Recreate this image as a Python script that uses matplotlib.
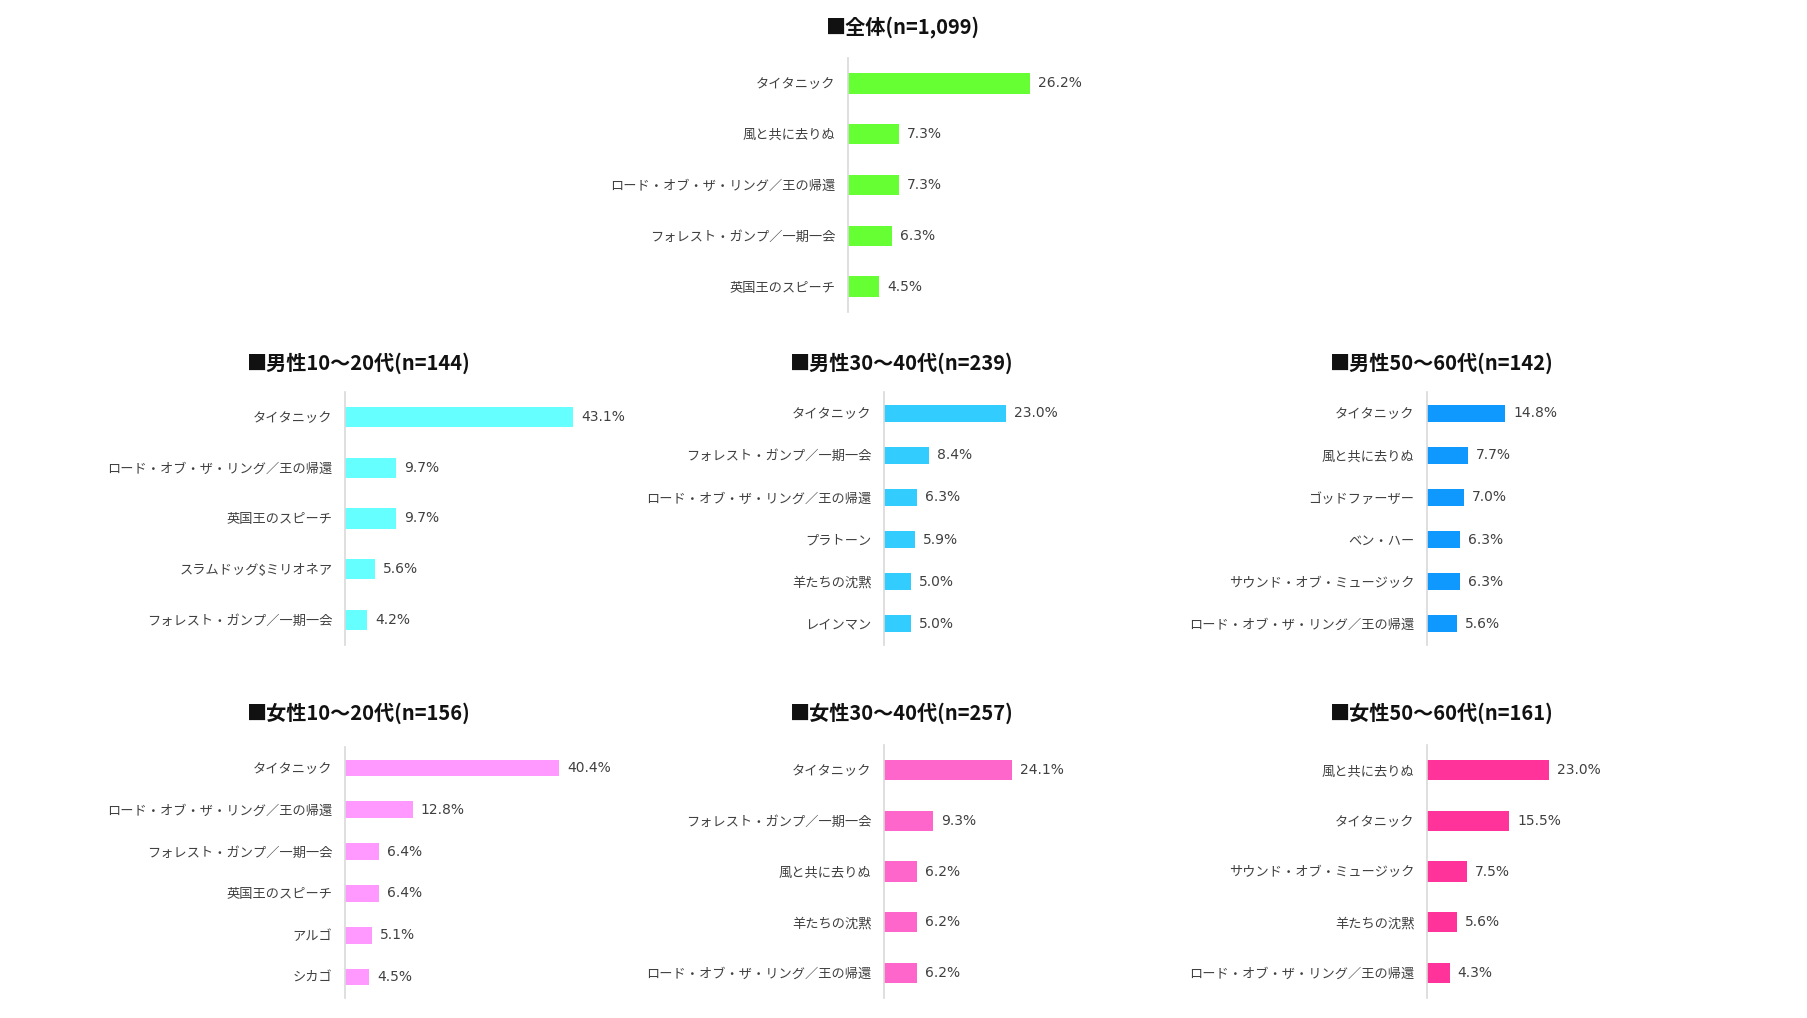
import matplotlib
matplotlib.use("Agg")
import matplotlib.pyplot as plt

plt.rcParams['font.family'] = ['Noto Sans CJK JP', 'DejaVu Sans']

W, H = 1807, 1018

# ---- データ ----
titles = [
    "■全体(n=1,099)",
    "■男性10～20代(n=144)",
    "■男性30～40代(n=239)",
    "■男性50～60代(n=142)",
    "■女性10～20代(n=156)",
    "■女性30～40代(n=257)",
    "■女性50～60代(n=161)",
]

labels_all = ["タイタニック", "風と共に去りぬ", "ロード・オブ・ザ・リング／王の帰還",
              "フォレスト・ガンプ／一期一会", "英国王のスピーチ"]
values_all = [26.2, 7.3, 7.3, 6.3, 4.5]

labels_m1020 = ["タイタニック", "ロード・オブ・ザ・リング／王の帰還", "英国王のスピーチ",
                "スラムドッグ$ミリオネア", "フォレスト・ガンプ／一期一会"]
values_m1020 = [43.1, 9.7, 9.7, 5.6, 4.2]

labels_m3040 = ["タイタニック", "フォレスト・ガンプ／一期一会", "ロード・オブ・ザ・リング／王の帰還",
                "プラトーン", "羊たちの沈黙", "レインマン"]
values_m3040 = [23.0, 8.4, 6.3, 5.9, 5.0, 5.0]

labels_m5060 = ["タイタニック", "風と共に去りぬ", "ゴッドファーザー", "ベン・ハー",
                "サウンド・オブ・ミュージック", "ロード・オブ・ザ・リング／王の帰還"]
values_m5060 = [14.8, 7.7, 7.0, 6.3, 6.3, 5.6]

labels_f1020 = ["タイタニック", "ロード・オブ・ザ・リング／王の帰還", "フォレスト・ガンプ／一期一会",
                "英国王のスピーチ", "アルゴ", "シカゴ"]
values_f1020 = [40.4, 12.8, 6.4, 6.4, 5.1, 4.5]

labels_f3040 = ["タイタニック", "フォレスト・ガンプ／一期一会", "風と共に去りぬ",
                "羊たちの沈黙", "ロード・オブ・ザ・リング／王の帰還"]
values_f3040 = [24.1, 9.3, 6.2, 6.2, 6.2]

labels_f5060 = ["風と共に去りぬ", "タイタニック", "サウンド・オブ・ミュージック",
                "羊たちの沈黙", "ロード・オブ・ザ・リング／王の帰還"]
values_f5060 = [23.0, 15.5, 7.5, 5.6, 4.3]

colors = ["#66ff33", "#66ffff", "#33ccff", "#0f99ff", "#ff99ff", "#ff66cc", "#ff3399"]

# ---- レイアウト (ピクセル単位) ----
# (軸のx, 上端y, 下端y, 1%あたりのピクセル, タイトル中心x, タイトルy)
layout = [
    (848, 58, 312, 6.94, 903, 27),
    (345, 392, 645, 5.3, 359, 363),
    (884, 392, 645, 5.3, 902, 363),
    (1427, 392, 645, 5.3, 1442, 363),
    (345, 747, 998, 5.3, 359, 713),
    (884, 745, 998, 5.3, 902, 713),
    (1427, 745, 998, 5.3, 1442, 713),
]

panels = [
    (labels_all, values_all),
    (labels_m1020, values_m1020),
    (labels_m3040, values_m3040),
    (labels_m5060, values_m5060),
    (labels_f1020, values_f1020),
    (labels_f3040, values_f3040),
    (labels_f5060, values_f5060),
]

fig = plt.figure(figsize=(W / 100, H / 100), dpi=100)
fig.patch.set_facecolor('white')

ax_w = 300
for (labels, values), (x0, top, bottom, scale, tx, ty), color, title in zip(
        panels, layout, colors, titles):
    ax = fig.add_axes([x0 / W, 1 - bottom / H, ax_w / W, (bottom - top) / H])
    n = len(labels)
    pos = list(range(n))
    ax.barh(pos, values, height=0.4, color=color)
    ax.set_ylim(n - 0.5, -0.5)
    ax.set_xlim(0, ax_w / scale)
    ax.set_yticks(pos)
    ax.set_yticklabels(labels, fontsize=9.5, color='#404040')
    ax.tick_params(axis='y', length=0, pad=9)
    ax.set_xticks([])
    for s in ['top', 'right', 'bottom']:
        ax.spines[s].set_visible(False)
    ax.spines['left'].set_color('#d9d9d9')
    ax.spines['left'].set_linewidth(1.2)
    for p, v in zip(pos, values):
        ax.annotate(f"{v:.1f}%", xy=(v, p), xytext=(8, 0), textcoords='offset pixels',
                    va='center', ha='left', fontsize=10, color='#404040',
                    family='DejaVu Sans')
    fig.text(tx / W, 1 - ty / H, title, ha='center', va='center',
             fontsize=14.5, fontweight='bold', color='#111111')

fig.savefig("out.png", dpi=100, facecolor='white')
